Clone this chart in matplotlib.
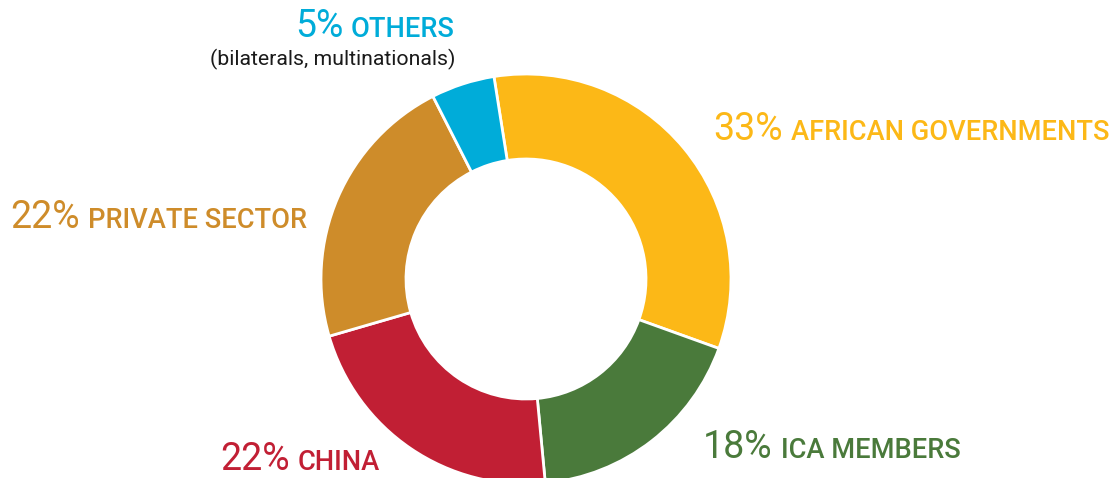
import matplotlib.pyplot as plt

# Funding shares (%) in clockwise order starting at the top
categories = ['AFRICAN GOVERNMENTS', 'ICA MEMBERS', 'CHINA', 'PRIVATE SECTOR', 'OTHERS']
shares = [33, 18, 22, 22, 5]
pct_labels = ['33%', '18%', '22%', '22%', '5%']
colors = ['#FCB817', '#4A7A3B', '#C11F34', '#CE8C2A', '#00ACD9']

plt.rcParams['font.family'] = ['Roboto', 'DejaVu Sans']

W, H = 1112, 478
fig = plt.figure(figsize=(W / 100, H / 100), dpi=100)
ax = fig.add_axes([0, 0, 1, 1])
ax.set_xlim(0, W)
ax.set_ylim(0, H)
ax.set_aspect('equal')
ax.axis('off')

R = 205
ax.pie(shares, colors=colors, startangle=99, counterclock=False,
       center=(526, H - 279), radius=R,
       wedgeprops=dict(width=85, edgecolor='white', linewidth=2))
ax.set_xlim(0, W)
ax.set_ylim(0, H)

# label anchor: (x, baseline y in pixels from top, align)
label_pos = [(713, 140, 'left'), (703, 458, 'left'), (220, 470, 'left'),
             (10, 228, 'left'), (455, 37, 'right')]

fig.canvas.draw()
renderer = fig.canvas.get_renderer()
gap = 8
for pct, name, col, (x, y, al) in zip(pct_labels, categories, colors, label_pos):
    yb = H - y
    if al == 'left':
        t = ax.text(x, yb, pct, color=col, fontsize=27, fontweight='normal',
                    ha='left', va='baseline')
        bb = t.get_window_extent(renderer)
        ax.text(bb.x1 + gap, yb, name, color=col, fontsize=19.6, fontweight='medium',
                ha='left', va='baseline')
    else:
        t = ax.text(x, yb, name, color=col, fontsize=19.6, fontweight='medium',
                    ha='right', va='baseline')
        bb = t.get_window_extent(renderer)
        ax.text(bb.x0 - gap, yb, pct, color=col, fontsize=27, fontweight='normal',
                ha='right', va='baseline')

ax.text(455, H - 65, '(bilaterals, multinationals)', color='#1a1a1a',
        fontsize=15.3, ha='right', va='baseline')

fig.savefig('out.png', dpi=100)
